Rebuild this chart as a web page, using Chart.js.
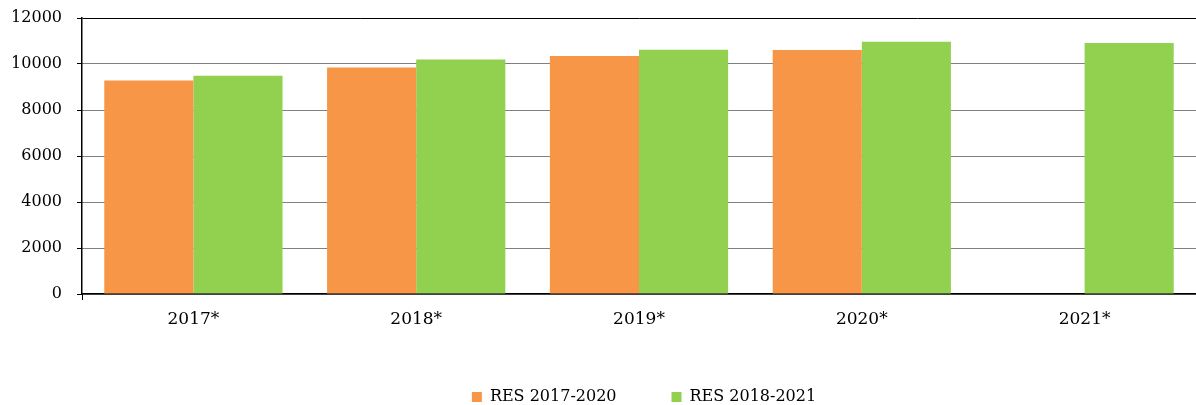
<!DOCTYPE html>
<html>
<head>
<meta charset="utf-8">
<script src="https://cdn.jsdelivr.net/npm/chart.js@4/dist/chart.umd.min.js"></script>
<style>
  html, body { margin: 0; padding: 0; background: #fff; }
  #wrap { width: 1196px; height: 405px; }
</style>
</head>
<body>
<div id="wrap"><canvas id="c" width="1196" height="405"></canvas></div>
<script>
const categories = ['2017*', '2018*', '2019*', '2020*', '2021*'];
const res2017_2020 = [9285, 9850, 10345, 10610, null];
const res2018_2021 = [9490, 10200, 10620, 10970, 10910];
const seriesNames = ['RES 2017-2020', 'RES 2018-2021'];
const yTicks = [0, 2000, 4000, 6000, 8000, 10000, 12000];

const FONT = 'DejaVu Serif';

const legendShift = {
  id: 'legendShift',
  afterLayout(chart) {
    if (chart.legend) { chart.legend.left += 92; }
  }
};

new Chart(document.getElementById('c'), {
  type: 'bar',
  data: {
    labels: categories,
    datasets: [
      { label: seriesNames[0], data: res2017_2020, backgroundColor: '#F79646' },
      { label: seriesNames[1], data: res2018_2021, backgroundColor: '#92D050' }
    ]
  },
  plugins: [legendShift],
  options: {
    responsive: false,
    animation: false,
    devicePixelRatio: 1,
    datasets: { bar: { categoryPercentage: 0.8, barPercentage: 1.0 } },
    layout: { padding: { top: 18, right: 0, left: 0, bottom: 0 } },
    plugins: {
      tooltip: { enabled: false },
      legend: {
        position: 'bottom',
        maxHeight: 71,
        labels: {
          boxWidth: 10, boxHeight: 10, padding: 55,
          color: '#000',
          font: { family: FONT, size: 16 }
        }
      }
    },
    scales: {
      x: {
        grid: {
          offset: true,
          drawOnChartArea: false,
          tickLength: 6,
          color: (ctx) => ctx.index === 0 ? '#000' : 'rgba(0,0,0,0)'
        },
        border: { color: '#000', width: 1.5 },
        ticks: { color: '#000', font: { family: FONT, size: 17 }, padding: 9 },
        afterFit: (s) => { s.height = 40; }
      },
      y: {
        min: 0, max: 12000,
        afterBuildTicks: (s) => { s.ticks = yTicks.map(v => ({ value: v })); },
        grid: {
          color: '#000',
          lineWidth: 1,
          tickLength: 5,
          tickColor: '#000',
          tickBorderDash: []
        },
        border: {
          color: '#000', width: 1.5,
          dash: (ctx) => (ctx.tick && ctx.tick.value === 12000) ? [] : [1, 1]
        },
        ticks: {
          color: '#000', font: { family: FONT, size: 16 }, padding: 15,
          callback: (v) => String(v)
        },
        afterFit: (s) => { s.width = 82; s.paddingTop = 0; s.paddingBottom = 0; }
      }
    }
  }
});
</script>
</body>
</html>
